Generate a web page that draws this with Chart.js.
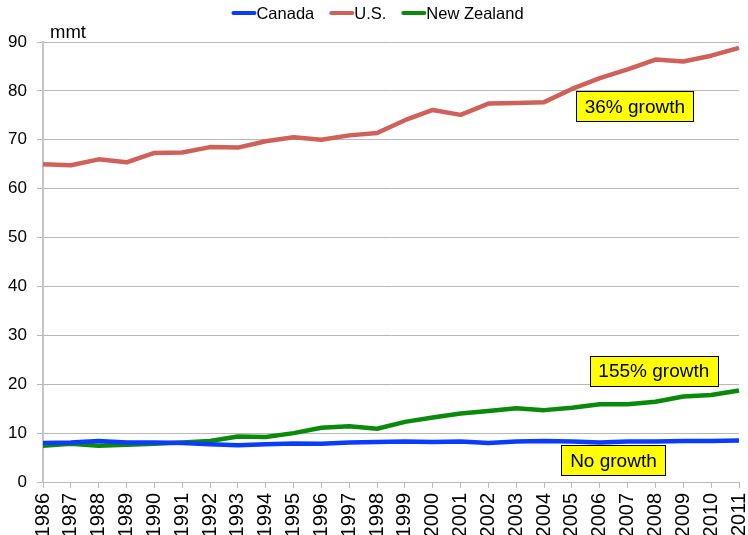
<!DOCTYPE html>
<html><head><meta charset="utf-8">
<script src="https://cdn.jsdelivr.net/npm/chart.js@4/dist/chart.umd.min.js"></script>
<style>html,body{margin:0;padding:0;background:#fff}</style>
</head><body>
<canvas id="c" width="748" height="535"></canvas>
<script>
const years = ['1986','1987','1988','1989','1990','1991','1992','1993','1994','1995','1996','1997','1998','1999','2000','2001','2002','2003','2004','2005','2006','2007','2008','2009','2010','2011'];
const canada = [8.0,8.1,8.4,8.1,8.1,8.0,7.7,7.5,7.7,7.9,7.8,8.1,8.2,8.3,8.2,8.3,8.0,8.3,8.4,8.3,8.1,8.3,8.3,8.4,8.4,8.5];
const us = [65.0,64.8,66.0,65.4,67.3,67.4,68.5,68.4,69.7,70.5,70.0,70.9,71.4,74.0,76.1,75.1,77.4,77.5,77.7,80.4,82.6,84.4,86.4,86.0,87.2,88.8];
const newZealand = [7.4,7.8,7.4,7.6,7.8,8.1,8.4,9.3,9.2,10.0,11.1,11.4,10.9,12.3,13.2,14.0,14.5,15.1,14.7,15.2,15.9,15.9,16.4,17.5,17.8,18.7];
const yMin = 0, yMax = 90, yStep = 10;
const unitLabel = 'mmt';
const notes = [
  {text:'36% growth', at:21.26, value:76.85},
  {text:'155% growth', at:21.94, value:22.7},
  {text:'No growth', at:20.49, value:4.44}
];
const FONT = '"Liberation Sans", Arial, sans-serif';

const legendPlugin = {
  id:'lineLegend',
  afterDraw(chart){
    const ctx = chart.ctx;
    ctx.save();
    ctx.font = '16.5px ' + FONT;
    ctx.textBaseline = 'middle';
    ctx.textAlign = 'left';
    const lineW = 23, gap = 1, itemGap = 16, cy = 13;
    const items = chart.data.datasets.map(d=>({text:d.label, color:d.borderColor, w: ctx.measureText(d.label).width}));
    const total = items.reduce((s,it)=>s + lineW + gap + it.w, 0) + itemGap*(items.length-1);
    let x = chart.width/2 + 4 - total/2;
    items.forEach(it=>{
      ctx.strokeStyle = it.color; ctx.lineWidth = 4; ctx.lineCap = 'round';
      ctx.beginPath(); ctx.moveTo(x+1, cy); ctx.lineTo(x+lineW-1, cy); ctx.stroke();
      ctx.fillStyle = '#000';
      ctx.fillText(it.text, x + lineW + gap, cy + 1);
      x += lineW + gap + it.w + itemGap;
    });
    ctx.restore();
  }
};

const notesPlugin = {
  id:'notes',
  afterDatasetsDraw(chart){
    const {ctx, scales:{x,y}} = chart;
    ctx.save();
    ctx.font = '19px ' + FONT;
    ctx.textBaseline = 'middle';
    ctx.textAlign = 'center';
    notes.forEach(n=>{
      const cx = x.getPixelForValue(n.at), cy = y.getPixelForValue(n.value);
      const w = Math.round(ctx.measureText(n.text).width + 17), h = 30;
      const left = Math.round(cx - w/2) + 0.5, top = Math.round(cy - h/2) + 0.5;
      ctx.fillStyle = '#ffff00';
      ctx.fillRect(left, top, w, h);
      ctx.strokeStyle = '#000'; ctx.lineWidth = 1;
      ctx.strokeRect(left, top, w, h);
      ctx.fillStyle = '#000';
      ctx.fillText(n.text, cx, cy + 1);
    });
    ctx.textAlign = 'left'; ctx.textBaseline = 'alphabetic';
    ctx.font = '18.5px ' + FONT;
    ctx.fillText(unitLabel, chart.chartArea.left + 7, chart.chartArea.top - 4);
    ctx.restore();
  }
};

new Chart(document.getElementById('c'), {
  type:'line',
  data:{
    labels: years,
    datasets:[
      {label:'Canada', data:canada, borderColor:'#0a3cff', backgroundColor:'#0a3cff'},
      {label:'U.S.', data:us, borderColor:'#d0605a', backgroundColor:'#d0605a'},
      {label:'New Zealand', data:newZealand, borderColor:'#0a8a0a', backgroundColor:'#0a8a0a'}
    ]
  },
  options:{
    responsive:false, animation:false, devicePixelRatio:1,
    elements:{line:{borderWidth:4.5, tension:0, borderJoinStyle:'round'}, point:{radius:0}},
    layout:{padding:{right:9, top:42, left:0, bottom:0}},
    plugins:{
      legend:{display:false},
      tooltip:{enabled:false}
    },
    scales:{
      x:{
        offset:false,
        grid:{drawOnChartArea:false, drawTicks:true, tickLength:6, color:'#b8b8b8'},
        border:{color:'#b8b8b8', width:1},
        ticks:{autoSkip:false, maxRotation:90, minRotation:90, font:{family:FONT, size:20}, color:'#000', padding:5},
        afterFit(s){ s.height = 53; s.paddingLeft = 0; s.paddingRight = 0; }
      },
      y:{
        min:yMin, max:yMax,
        ticks:{stepSize:yStep, font:{family:FONT, size:17}, color:'#000', padding:10},
        grid:{color:'#b8b8b8', tickLength:6},
        border:{color:'#c4c4c4', width:2},
        afterFit(s){ s.width = 43; s.paddingTop = 0; s.paddingBottom = 0; }
      }
    }
  },
  plugins:[notesPlugin, legendPlugin]
});
</script>
</body></html>
